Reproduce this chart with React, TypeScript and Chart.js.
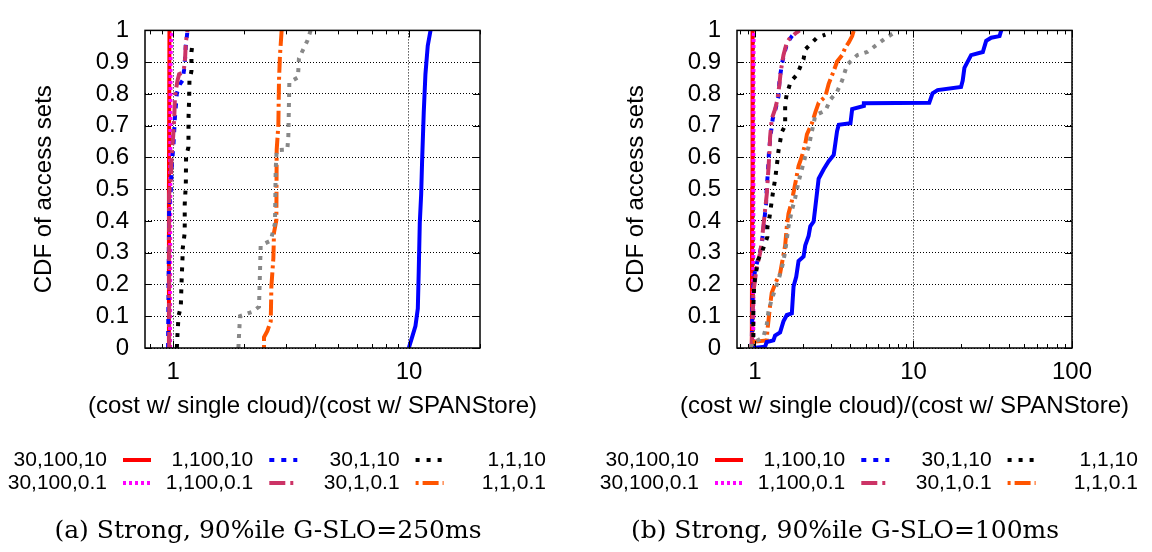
import React, { useEffect, useRef } from "react";
import { Chart, registerables } from "chart.js";

Chart.register(...registerables);

// ---------- shared ----------
const seriesLabels = ["30,100,10", "30,100,0.1", "1,100,10", "1,100,0.1", "30,1,10", "30,1,0.1", "1,1,10", "1,1,0.1"];
const seriesColors = ["#ff0000", "#ff00ff", "#0000ff", "#cc3366", "#000000", "#ff5500", "#888888", "#0000ff"];
const seriesDashes = [[], [3, 3], [5, 7], [16, 5, 3, 5], [4, 7], [3, 4, 16, 4], [4, 6], []];
const yTickValues = [0, 0.1, 0.2, 0.3, 0.4, 0.5, 0.6, 0.7, 0.8, 0.9, 1];
const xTicksA = [1, 10];
const xTicksB = [1, 10, 100];
const yTitle = "CDF of access sets";
const xTitle = "(cost w/ single cloud)/(cost w/ SPANStore)";
const captionA = "(a) Strong, 90%ile G-SLO=250ms";
const captionB = "(b) Strong, 90%ile G-SLO=100ms";

// ---------- panel (a): G-SLO = 250ms ----------
const a_30_100_10_x = [0.955, 0.96, 0.965];
const a_30_100_10_y = [0, 0.5, 1];
const a_30_100_01_x = [0.97, 0.975, 0.98, 0.995];
const a_30_100_01_y = [0, 0.9, 0.97, 1];
const a_1_100_10_x = [0.952, 0.962, 0.978, 0.987, 1.004, 1.017, 1.037, 1.071, 1.096, 1.113, 1.124, 1.132, 1.151];
const a_1_100_10_y = [0, 0.443, 0.498, 0.573, 0.643, 0.722, 0.802, 0.832, 0.842, 0.877, 0.912, 0.952, 1];
const a_1_100_01_x = [0.962, 0.962, 0.978, 0.984, 1.0, 1.011, 1.017, 1.027, 1.044, 1.06, 1.096, 1.113, 1.124, 1.132, 1.151];
const a_1_100_01_y = [0, 0.483, 0.533, 0.603, 0.663, 0.722, 0.782, 0.812, 0.842, 0.862, 0.867, 0.882, 0.912, 0.962, 1];
const a_30_1_10_x = [1.037, 1.044, 1.054, 1.078, 1.085, 1.096, 1.096, 1.12, 1.12, 1.132, 1.135, 1.162, 1.162, 1.169, 1.173, 1.196, 1.196, 1.211];
const a_30_1_10_y = [0, 0.044, 0.1, 0.13, 0.2, 0.283, 0.308, 0.363, 0.453, 0.513, 0.603, 0.633, 0.722, 0.782, 0.842, 0.872, 0.932, 0.962];
const a_30_1_01_x = [2.428, 2.428, 2.51, 2.593, 2.61, 2.661, 2.677, 2.74, 2.748, 2.794, 2.811, 2.838, 2.885];
const a_30_1_01_y = [0, 0.034, 0.054, 0.084, 0.194, 0.283, 0.363, 0.403, 0.623, 0.703, 0.842, 0.922, 1];
const a_1_1_10_x = [1.891, 1.921, 2.169, 2.313, 2.336, 2.351, 2.593, 2.703, 2.722, 2.748, 3.05, 3.08, 3.11, 3.382, 3.416, 3.707, 3.828];
const a_1_1_10_y = [0, 0.1, 0.114, 0.13, 0.244, 0.323, 0.338, 0.393, 0.563, 0.623, 0.625, 0.668, 0.837, 0.852, 0.912, 0.967, 1];
const a_1_1_01_x = [9.98, 10.31, 10.65, 10.9, 11.0, 11.11, 11.26, 11.37, 11.55, 11.74, 12.01, 12.34];
const a_1_1_01_y = [0, 0.034, 0.069, 0.124, 0.244, 0.393, 0.483, 0.593, 0.742, 0.862, 0.952, 1];

// ---------- panel (b): G-SLO = 100ms ----------
const b_30_100_10_x = [0.955, 0.96, 0.965];
const b_30_100_10_y = [0, 0.5, 1];
const b_30_100_01_x = [0.975, 0.978, 0.98, 0.99];
const b_30_100_01_y = [0, 0.9, 0.98, 1];
const b_1_100_10_x = [0.953, 0.967, 1.0, 1.05, 1.102, 1.14, 1.174, 1.186, 1.209, 1.227, 1.257, 1.294, 1.355, 1.406, 1.427, 1.476, 1.527, 1.603, 1.708, 1.794, 1.837];
const b_1_100_10_y = [0, 0.174, 0.244, 0.283, 0.323, 0.393, 0.453, 0.503, 0.563, 0.623, 0.673, 0.722, 0.757, 0.792, 0.842, 0.892, 0.927, 0.962, 0.982, 0.994, 1];
const b_1_100_01_x = [0.953, 0.976, 1.025, 1.076, 1.102, 1.129, 1.157, 1.186, 1.197, 1.215, 1.233, 1.245, 1.276, 1.339, 1.385, 1.427, 1.455, 1.512, 1.588, 1.667, 1.837, 1.91];
const b_1_100_01_y = [0, 0.174, 0.254, 0.298, 0.333, 0.383, 0.433, 0.483, 0.513, 0.563, 0.613, 0.663, 0.722, 0.752, 0.782, 0.832, 0.872, 0.922, 0.962, 0.977, 0.994, 1];
const b_30_1_10_x = [0.97, 0.976, 0.976, 0.976, 0.987, 1.0, 1.05, 1.102, 1.197, 1.197, 1.233, 1.257, 1.307, 1.339, 1.385, 1.406, 1.476, 1.55, 1.55, 1.588, 1.684, 1.837, 2.026, 2.075, 2.46, 2.78];
const b_30_1_10_y = [0, 0.034, 0.1, 0.13, 0.19, 0.22, 0.28, 0.3, 0.35, 0.38, 0.41, 0.44, 0.5, 0.53, 0.59, 0.62, 0.68, 0.7, 0.77, 0.8, 0.84, 0.86, 0.91, 0.94, 0.977, 0.987];
const b_30_1_01_x = [0.953, 0.953, 1.186, 1.197, 1.245, 1.276, 1.372, 1.44, 1.476, 1.55, 1.588, 1.627, 1.708, 1.82, 1.883, 1.976, 2.075, 2.127, 2.288, 2.402, 2.521, 2.78, 2.917, 3.139, 3.295, 3.544, 3.722, 3.906, 4.102, 4.203];
const b_30_1_01_y = [0, 0.019, 0.024, 0.054, 0.134, 0.174, 0.214, 0.234, 0.264, 0.323, 0.383, 0.423, 0.463, 0.533, 0.573, 0.603, 0.643, 0.673, 0.708, 0.742, 0.772, 0.792, 0.832, 0.872, 0.902, 0.922, 0.947, 0.962, 0.982, 1];
const b_1_1_10_x = [0.953, 0.953, 1.129, 1.186, 1.215, 1.276, 1.339, 1.406, 1.497, 1.55, 1.588, 1.627, 1.708, 1.794, 1.883, 1.976, 2.075, 2.179, 2.288, 2.402, 2.78, 2.99, 3.295, 3.544, 3.814, 4.412, 5.106, 5.768, 6.513, 7.912];
const b_1_1_10_y = [0, 0.014, 0.034, 0.074, 0.114, 0.154, 0.184, 0.214, 0.264, 0.303, 0.343, 0.383, 0.433, 0.473, 0.523, 0.563, 0.603, 0.633, 0.683, 0.733, 0.747, 0.782, 0.807, 0.842, 0.892, 0.922, 0.932, 0.952, 0.972, 1];
const b_1_1_01_x = [0.976, 1.157, 1.186, 1.307, 1.339, 1.44, 1.512, 1.588, 1.708, 1.751, 1.82, 1.883, 2.026, 2.075, 2.179, 2.233, 2.344, 2.402, 2.521, 2.713, 2.917, 3.139, 3.295, 3.376, 4.003, 4.102, 4.863, 4.863, 12.57, 13.19, 14.19, 19.95, 20.44, 20.95, 23.09, 27.37, 28.74, 30.92, 34.91, 35.78];
const b_1_1_01_y = [0, 0.004, 0.019, 0.024, 0.039, 0.049, 0.084, 0.104, 0.109, 0.194, 0.224, 0.274, 0.288, 0.323, 0.353, 0.383, 0.398, 0.443, 0.533, 0.563, 0.588, 0.608, 0.683, 0.703, 0.708, 0.752, 0.762, 0.771, 0.772, 0.802, 0.812, 0.822, 0.842, 0.882, 0.922, 0.932, 0.967, 0.977, 0.982, 1];

const panelA = {
  xMin: 0.76,
  xMax: 20,
  xTicks: xTicksA,
  series: [
    [a_30_100_10_x, a_30_100_10_y],
    [a_30_100_01_x, a_30_100_01_y],
    [a_1_100_10_x, a_1_100_10_y],
    [a_1_100_01_x, a_1_100_01_y],
    [a_30_1_10_x, a_30_1_10_y],
    [a_30_1_01_x, a_30_1_01_y],
    [a_1_1_10_x, a_1_1_10_y],
    [a_1_1_01_x, a_1_1_01_y],
  ],
};
const panelB = {
  xMin: 0.77,
  xMax: 100,
  xTicks: xTicksB,
  series: [
    [b_30_100_10_x, b_30_100_10_y],
    [b_30_100_01_x, b_30_100_01_y],
    [b_1_100_10_x, b_1_100_10_y],
    [b_1_100_01_x, b_1_100_01_y],
    [b_30_1_10_x, b_30_1_10_y],
    [b_30_1_01_x, b_30_1_01_y],
    [b_1_1_10_x, b_1_1_10_y],
    [b_1_1_01_x, b_1_1_01_y],
  ],
};

const CW = 560;
const CH = 552;
const SANS = '"Liberation Sans", Arial, sans-serif';

const framePlugin = {
  id: "gnuframe",
  afterDatasetsDraw(chart: any) {
    const ctx = chart.ctx;
    const { left, right, top, bottom } = chart.chartArea;
    const xs = chart.scales.x;
    const ys = chart.scales.y;
    ctx.save();
    ctx.setLineDash([]);
    ctx.strokeStyle = "#000";
    ctx.lineWidth = 1;
    ctx.beginPath();
    for (const v of yTickValues) {
      const py = Math.round(ys.getPixelForValue(v)) + 0.5;
      ctx.moveTo(left, py);
      ctx.lineTo(left + 7, py);
      ctx.moveTo(right, py);
      ctx.lineTo(right - 7, py);
    }
    const lo = Math.floor(Math.log10(xs.min));
    const hi = Math.ceil(Math.log10(xs.max));
    for (let e = lo; e <= hi; e++) {
      for (let k = 1; k <= 9; k++) {
        const v = k * Math.pow(10, e);
        if (v < xs.min * 0.999 || v > xs.max * 1.001) continue;
        const px = Math.round(xs.getPixelForValue(v)) + 0.5;
        const len = k === 1 ? 7 : 4;
        ctx.moveTo(px, bottom);
        ctx.lineTo(px, bottom - len);
        ctx.moveTo(px, top);
        ctx.lineTo(px, top + len);
      }
    }
    ctx.stroke();
    ctx.lineWidth = 1.5;
    ctx.strokeRect(left, top, right - left, bottom - top);
    ctx.restore();
  },
  afterDraw(chart: any) {
    const ctx = chart.ctx;
    const { left, right } = chart.chartArea;
    ctx.save();
    // x axis title (drawn without width squeezing)
    ctx.fillStyle = "#000";
    ctx.font = `24px ${SANS}`;
    ctx.textAlign = "center";
    ctx.textBaseline = "middle";
    ctx.fillText(xTitle, (left + right) / 2, 406);
    // legend, gnuplot style: text then sample
    const rowY = [460, 483];
    chart.data.datasets.forEach((ds: any, i: number) => {
      const col = Math.floor(i / 2);
      const row = i % 2;
      const tr = 107 + col * 146.3;
      const y = rowY[row];
      ctx.setLineDash([]);
      ctx.fillStyle = "#000";
      ctx.font = `21px ${SANS}`;
      ctx.textAlign = "right";
      ctx.textBaseline = "middle";
      ctx.fillText(ds.label, tr, y);
      ctx.beginPath();
      ctx.strokeStyle = ds.borderColor;
      ctx.lineWidth = 4;
      ctx.lineCap = "butt";
      ctx.setLineDash(ds.borderDash || []);
      ctx.moveTo(tr + 16, y);
      ctx.lineTo(tr + 44, y);
      ctx.stroke();
    });
    ctx.restore();
  },
};

function Panel({ panel, left }: { panel: any; left: number }) {
  const ref = useRef<HTMLCanvasElement>(null);
  useEffect(() => {
    const datasets = panel.series.map((s: number[][], i: number) => {
      const n = Math.min(s[0].length, s[1].length);
      const pts = [];
      for (let j = 0; j < n; j++) pts.push({ x: s[0][j], y: s[1][j] });
      return {
        label: seriesLabels[i],
        data: pts,
        borderColor: seriesColors[i],
        backgroundColor: seriesColors[i],
        borderWidth: 4,
        borderDash: seriesDashes[i],
        borderCapStyle: "butt",
        borderJoinStyle: "miter",
        pointRadius: 0,
        pointHoverRadius: 0,
        fill: false,
        tension: 0,
        order: 7 - i,
      };
    });
    const tickFont = { family: SANS, size: 24 };
    const chart = new Chart(ref.current as HTMLCanvasElement, {
      type: "line",
      data: { datasets },
      options: {
        responsive: false,
        animation: false,
        events: [],
        layout: { padding: { top: 14, right: 80, bottom: 100, left: 0 } },
        plugins: { legend: { display: false }, tooltip: { enabled: false } },
        scales: {
          x: {
            type: "logarithmic",
            min: panel.xMin,
            max: panel.xMax,
            afterBuildTicks: (s: any) => {
              s.ticks = panel.xTicks.map((v: number) => ({ value: v }));
            },
            afterFit: (s: any) => {
              s.height = 104;
            },
            ticks: {
              font: tickFont,
              color: "#000",
              padding: 10,
              autoSkip: false,
              maxRotation: 0,
              callback: (v: any) => String(v),
            },
            grid: { color: "#000", lineWidth: 1, drawTicks: false },
            border: { display: false, dash: [1, 2] },
            title: { display: false },
          },
          y: {
            type: "linear",
            min: 0,
            max: 1,
            afterBuildTicks: (s: any) => {
              s.ticks = yTickValues.map((v) => ({ value: v }));
            },
            afterFit: (s: any) => {
              s.width = 145;
            },
            ticks: {
              font: tickFont,
              color: "#000",
              padding: 16,
              autoSkip: false,
              callback: (v: any) => String(v),
            },
            grid: { color: "#000", lineWidth: 1, drawTicks: false },
            border: { display: false, dash: [1, 2] },
            title: {
              display: true,
              text: yTitle,
              color: "#000",
              font: { family: SANS, size: 24 },
              padding: { top: 29.5, bottom: 0 },
            },
          },
        },
      } as any,
      plugins: [framePlugin],
    } as any);
    return () => chart.destroy();
  }, [panel]);
  return (
    <canvas
      ref={ref}
      width={CW}
      height={CH}
      style={{ position: "absolute", left, top: 0, width: CW, height: CH }}
    />
  );
}

const captionStyle: React.CSSProperties = {
  position: "absolute",
  top: 517,
  width: 500,
  textAlign: "center",
  fontFamily: '"DejaVu Serif", serif',
  fontSize: 25,
  lineHeight: "25px",
  color: "#000",
  whiteSpace: "nowrap",
};

export default function App() {
  return (
    <div
      style={{
        position: "absolute",
        left: 0,
        top: 0,
        width: 1152,
        height: 552,
        background: "#fff",
        overflow: "hidden",
      }}
    >
      <Panel panel={panelA} left={0} />
      <Panel panel={panelB} left={592} />
      <div style={{ ...captionStyle, left: 268 - 250 }}>{captionA}</div>
      <div style={{ ...captionStyle, left: 845 - 250 }}>{captionB}</div>
    </div>
  );
}
